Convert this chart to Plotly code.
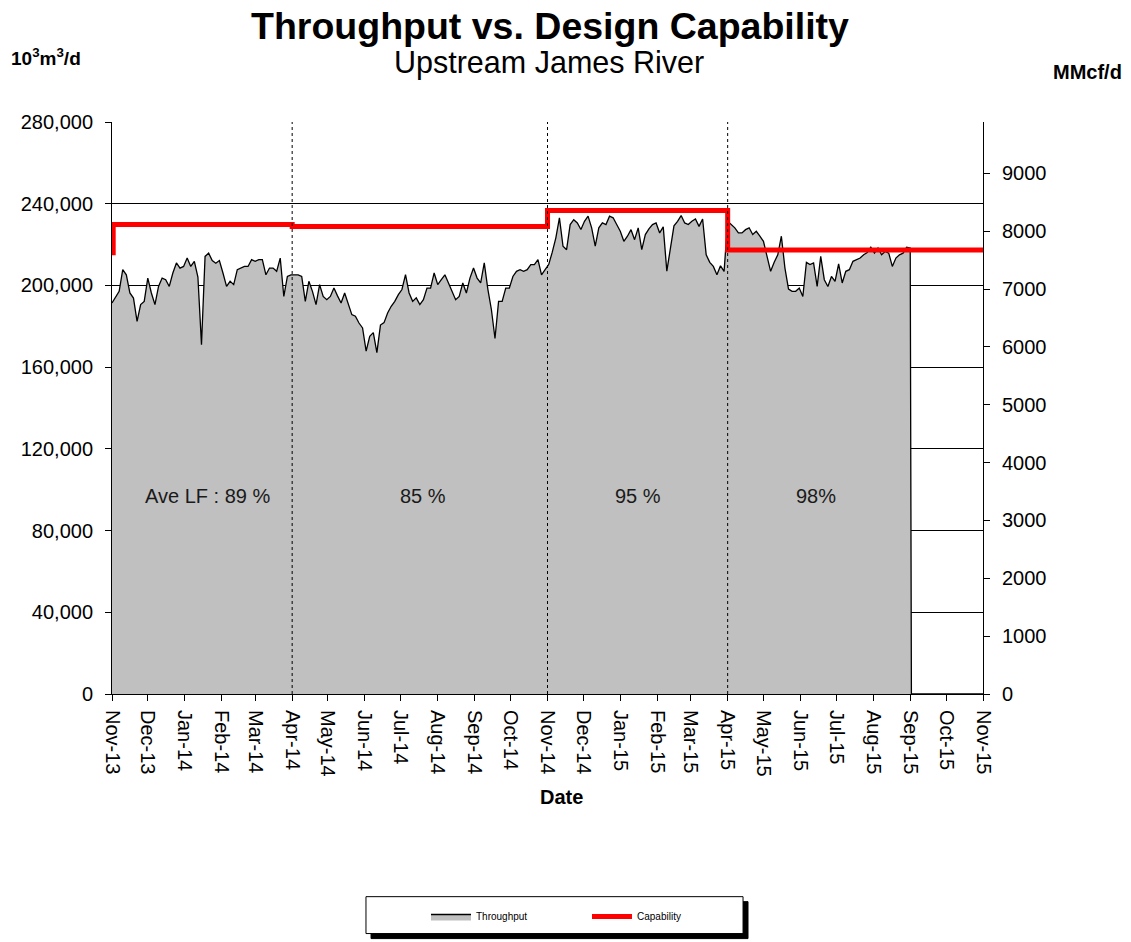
import pandas as pd
import plotly.graph_objects as go

# ---------------- data ----------------
START_DATE = "2013-11-01"
STEP = "3D"
# daily throughput sampled every 3 days (10^3 m3/d, thousands)
throughput_k = [
    191.4, 194.6, 197.1, 207.7, 205.2, 196.3, 193.8, 182.4, 190.6, 192.2, 203.6, 196.3,
    190.6, 199.5, 203.6, 202.8, 199.5, 206.1, 211.0, 208.5, 209.3, 213.4, 209.3, 211.8,
    204.1, 171.0, 214.2, 215.8, 212.2, 210.9, 212.2, 206.1, 199.5, 202.0, 200.4, 207.7,
    208.5, 209.3, 209.3, 212.6, 211.8, 212.6, 212.6, 205.2, 208.5, 208.5, 206.9, 213.4,
    194.6, 204.4, 205.2, 205.2, 205.2, 204.4, 192.2, 202.0, 197.1, 190.6, 200.4, 194.6,
    193.0, 194.6, 198.7, 194.9, 191.4, 196.3, 191.4, 185.7, 184.9, 181.6, 179.2, 167.8,
    175.1, 176.9, 167.1, 180.6, 181.8, 186.5, 189.8, 192.2, 195.5, 198.0, 205.3, 196.3,
    192.2, 193.9, 190.6, 193.0, 198.7, 198.7, 206.1, 200.4, 202.8, 205.2, 201.2, 197.1,
    193.0, 194.6, 201.2, 196.3, 203.6, 208.5, 203.6, 201.2, 211.0, 198.2, 188.1, 174.0,
    192.2, 192.2, 198.7, 198.7, 204.4, 206.9, 207.7, 206.9, 207.7, 210.2, 210.2, 212.6,
    205.2, 207.7, 210.2, 216.3, 223.3, 233.1, 219.2, 217.5, 229.8, 232.2, 230.6, 227.4,
    231.4, 233.9, 228.2, 219.2, 228.2, 230.6, 229.8, 233.9, 233.1, 229.8, 226.5, 221.6,
    224.1, 227.3, 222.4, 228.2, 217.5, 224.9, 227.7, 229.8, 230.6, 225.7, 228.7, 207.0,
    219.2, 229.2, 231.4, 234.2, 230.6, 229.8, 231.4, 232.5, 228.9, 232.5, 215.0, 211.3,
    209.3, 205.2, 209.6, 206.9, 231.4, 229.8, 228.2, 225.7, 225.7, 227.3, 228.2, 224.9,
    226.5, 224.1, 221.6, 214.2, 206.9, 211.3, 215.0, 224.1, 208.5, 198.2, 197.1, 197.1,
    198.7, 194.6, 211.3, 210.2, 211.0, 199.5, 214.2, 202.8, 199.5, 204.4, 202.0, 210.6,
    201.2, 206.9, 207.7, 211.8, 212.6, 213.4, 215.0, 216.1, 218.7, 215.8, 218.3, 215.0,
    216.6, 215.8, 209.3, 213.4, 215.0, 215.8, 218.7, 218.3,
]
tail_dates = ["2015-09-02", "2015-11-01"]
tail_values = [0, 0]

capability_dates = ["2013-11-01", "2013-11-02", "2014-04-01", "2014-11-01", "2015-04-01", "2015-11-01"]
capability_values = [216000, 229800, 228800, 236700, 217300, 217300]

period_boundaries = ["2014-04-01", "2014-11-01", "2015-04-01"]
lf_labels = ["Ave LF : 89 %", "85 %", "95 %", "98%"]
lf_dates = ["2014-01-20", "2014-07-20", "2015-01-16", "2015-06-14"]
lf_level = 97000

MMCF_PER_E3M3 = 0.0353147
Y_MAX = 280000

# ---------------- build ----------------
dates = list(pd.date_range(START_DATE, periods=len(throughput_k), freq=STEP).strftime("%Y-%m-%d"))
x_tp = dates + tail_dates
y_tp = [v * 1000 for v in throughput_k] + tail_values

FONT = "Liberation Sans, Arial, sans-serif"

fig = go.Figure()
fig.add_trace(go.Scatter(
    x=x_tp, y=y_tp, name="Throughput", mode="lines",
    fill="tozeroy", fillcolor="#C0C0C0",
    line=dict(color="black", width=1.3),
))
fig.add_trace(go.Scatter(
    x=capability_dates, y=capability_values, name="Capability", mode="lines",
    line=dict(color="#FF0000", width=5, shape="hv"),
))
# same capability in MMcf/d on the right axis (invisible, keeps the secondary axis active)
fig.add_trace(go.Scatter(
    x=capability_dates, y=[v * MMCF_PER_E3M3 for v in capability_values], yaxis="y2",
    mode="lines", line=dict(width=0, shape="hv"), opacity=0, showlegend=False, hoverinfo="skip",
))

# boundaries
for d in period_boundaries:
    fig.add_shape(type="line", xref="x", yref="paper", x0=d, x1=d, y0=0, y1=1,
                  line=dict(color="black", width=1, dash="dot"), layer="above")

for lab, d in zip(lf_labels, lf_dates):
    fig.add_annotation(x=d, y=lf_level, xref="x", yref="y", text=lab, showarrow=False,
                       xanchor="center", yanchor="middle",
                       font=dict(size=20, color="#1a1a1a", family=FONT))


def label(text, x, y, size):
    fig.add_annotation(x=x, y=y, xref="paper", yref="paper", text=text, showarrow=False,
                       xanchor="center", yanchor="middle",
                       font=dict(size=size, color="black", family=FONT))


label("<b>Throughput vs. Design Capability</b>", 0.5034, 1.168, 37.5)
label("Upstream James River", 0.5017, 1.1047, 30.5)
label("<b>10<sup>3</sup>m<sup>3</sup>/d</b>", -0.0758, 1.1134, 19)
label("<b>MMcf/d</b>", 1.12, 1.0873, 20)
label("<b>Date</b>", 0.5166, -0.1798, 20)

# legend box with shadow
fig.add_shape(type="rect", xref="paper", yref="paper", x0=0.2974, x1=0.7302, y0=-0.4276, y1=-0.3630,
              fillcolor="black", line=dict(color="black", width=1), layer="above")
fig.add_shape(type="rect", xref="paper", yref="paper", x0=0.2916, x1=0.7245, y0=-0.4188, y1=-0.3543,
              fillcolor="white", line=dict(color="black", width=1), layer="above")

# page body has an 8px margin: shrink the figure so the plot area lands where it should
fig.update_layout(
    width=1123, height=934,
    margin=dict(l=104, r=148, t=114, b=247),
    paper_bgcolor="white", plot_bgcolor="white",
    font=dict(family=FONT, color="black"),
    showlegend=True,
    legend=dict(orientation="h", x=0.3605, xanchor="left", y=-0.3866, yanchor="middle",
                bgcolor="rgba(0,0,0,0)", borderwidth=0, font=dict(size=10, family=FONT),
                itemwidth=40, entrywidth=106, entrywidthmode="pixels"),
    xaxis=dict(type="date", range=["2013-11-01", "2015-11-01"], dtick="M1", tick0="2013-11-01",
               tickformat="%b-%y", tickangle=90, ticks="outside", ticklen=6, tickcolor="black",
               showline=True, linecolor="black", linewidth=1, showgrid=False, zeroline=False,
               ticklabelstandoff=5,
               tickfont=dict(size=20, color="black", family=FONT)),
    yaxis=dict(range=[0, Y_MAX], dtick=40000, tickformat=",", showgrid=True, gridcolor="black",
               gridwidth=1, showline=True, linecolor="black", linewidth=1, ticks="outside",
               ticklen=6, tickcolor="black", zeroline=False, ticklabelstandoff=8,
               tickfont=dict(size=20, color="black", family=FONT)),
    yaxis2=dict(range=[0, Y_MAX * MMCF_PER_E3M3], dtick=1000, tickformat="d", overlaying="y",
                side="right", showgrid=False, showline=True, linecolor="black", linewidth=1,
                ticks="outside", ticklen=6, tickcolor="black", zeroline=False, ticklabelstandoff=8,
                tickfont=dict(size=20, color="black", family=FONT)),
)

fig.write_html("out.html")
